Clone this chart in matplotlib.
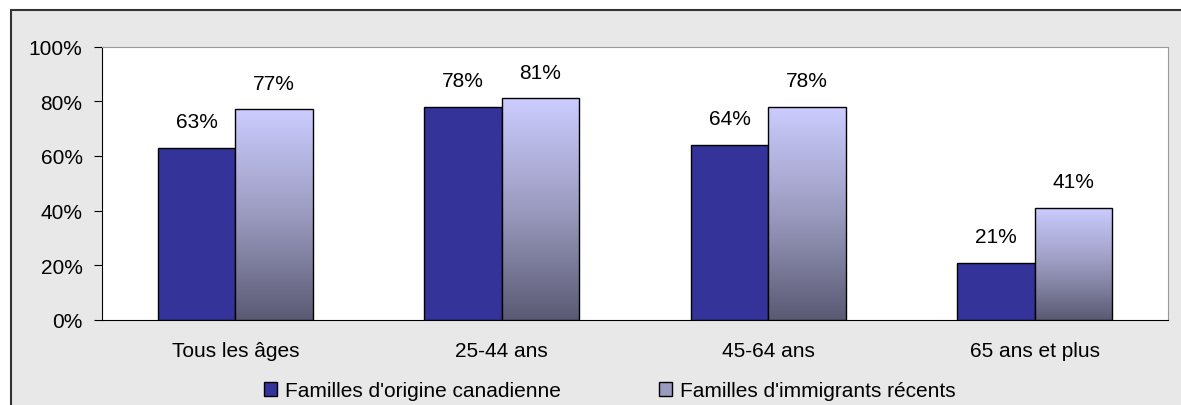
import numpy as np
import matplotlib
matplotlib.use("Agg")
import matplotlib.pyplot as plt
from matplotlib.patches import Rectangle, Patch
from matplotlib.colors import LinearSegmentedColormap

categories = ["Tous les âges", "25-44 ans", "45-64 ans", "65 ans et plus"]
canadiens = [63, 78, 64, 21]
immigrants = [77, 81, 78, 41]
series_names = ["Familles d'origine canadienne", "Familles d'immigrants récents"]
yticks = [0, 20, 40, 60, 80, 100]

plt.rcParams['font.family'] = ['Liberation Sans', 'DejaVu Sans']
plt.rcParams['font.size'] = 15

fig = plt.figure(figsize=(11.81, 4.06), dpi=100)
fig.patch.set_facecolor("white")

# grey chart area with the dark frame (top and left only visible)
W, H = 1181, 406
fig.patches.append(Rectangle((11 / W, -0.1), 1.2, (H - 11) / H + 0.1,
                             transform=fig.transFigure, facecolor="#e8e8e8",
                             edgecolor="#333333", linewidth=1.5, zorder=-5))

ax = fig.add_axes([102 / W, (H - 321) / H, (1168 - 102) / W, (321 - 47.5) / H])
ax.set_facecolor("white")

x = np.arange(len(categories))
bw = 0.29
b1 = ax.bar(x - bw / 2, canadiens, bw, color="#333399", edgecolor="black",
            linewidth=1, zorder=3)
b2 = ax.bar(x + bw / 2, immigrants, bw, color="none", edgecolor="black",
            linewidth=1, zorder=4)

grad = LinearSegmentedColormap.from_list("g", ["#5a5a74", "#9b9bc0", "#ccccff"])
g = np.linspace(0, 1, 256).reshape(-1, 1)
for r in b2:
    im = ax.imshow(g, cmap=grad, origin="lower", aspect="auto", zorder=3,
                   extent=[r.get_x(), r.get_x() + r.get_width(), 0, r.get_height()])
    im.set_clip_path(r)

for rects, vals in ((b1, canadiens), (b2, immigrants)):
    for r, v in zip(rects, vals):
        ax.annotate(f"{v}%", (r.get_x() + r.get_width() / 2, v),
                    xytext=(0, 12), textcoords="offset points",
                    ha="center", va="bottom")

ax.set_xlim(-0.5, len(categories) - 0.5)
ax.set_ylim(0, 100)
ax.set_yticks(yticks)
ax.set_yticklabels([f"{t}%" for t in yticks])
ax.set_xticks(x)
ax.set_xticklabels(categories)
ax.tick_params(axis="x", length=0, pad=15)
ax.tick_params(axis="y", length=6, direction="out", pad=8)

for s in ("top", "right"):
    ax.spines[s].set_color("#999999")
for s in ("left", "bottom"):
    ax.spines[s].set_color("black")

handles = [Patch(facecolor="#333399", edgecolor="black"),
           Patch(facecolor="#9b9bc0", edgecolor="black")]
fig.legend(handles, series_names, loc="center", bbox_to_anchor=(610 / W, (H - 392) / H),
           ncol=2, frameon=False, handlelength=0.62, handleheight=0.62,
           handletextpad=0.4, columnspacing=4.7, borderpad=0, borderaxespad=0)

fig.savefig("out.png", dpi=100)
